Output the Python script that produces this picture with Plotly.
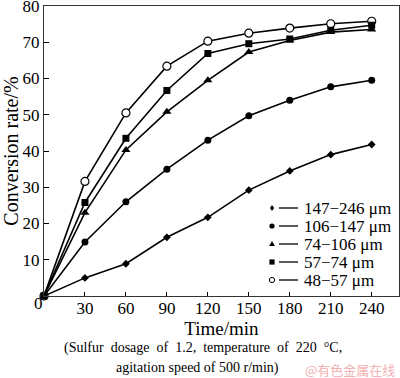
import plotly.graph_objects as go

time_min = [0, 30, 60, 90, 120, 150, 180, 210, 240]
series_names = ["147−246 μm", "106−147 μm", "74−106 μm", "57−74 μm", "48−57 μm"]
rate_147_246 = [0, 5.0, 8.9, 16.2, 21.7, 29.2, 34.5, 39.0, 41.8]
rate_106_147 = [0, 14.9, 26.0, 35.0, 43.0, 49.7, 54.0, 57.7, 59.5]
rate_74_106 = [0, 23.0, 40.3, 50.8, 59.5, 67.3, 70.5, 72.8, 73.5]
rate_57_74 = [0, 25.8, 43.5, 56.7, 66.9, 69.6, 70.9, 73.3, 74.7]
rate_48_57 = [0, 31.6, 50.5, 63.4, 70.3, 72.5, 73.9, 75.1, 75.8]
x_ticks = [30, 60, 90, 120, 150, 180, 210, 240]
y_ticks = [0, 10, 20, 30, 40, 50, 60, 70, 80]
y_tick_text = ["", "10", "20", "30", "40", "50", "60", "70", "80"]

FONT = "Liberation Serif, Times New Roman, serif"
W, H = 400, 378
ML, MR, MT, MB = 44, 1, 6, 82
PW, PH = W - ML - MR, H - MT - MB

styles = [
    dict(symbol="diamond", size=6, color="black", line=dict(width=0)),
    dict(symbol="circle", size=7, color="black", line=dict(width=0)),
    dict(symbol="triangle-up", size=8, color="black", line=dict(width=0)),
    dict(symbol="circle", size=8, color="white", line=dict(width=1.2, color="black")),
    dict(symbol="square", size=7, color="black", line=dict(width=0)),
]
data = [rate_147_246, rate_106_147, rate_74_106, rate_48_57, rate_57_74]
names = [series_names[0], series_names[1], series_names[2], series_names[4], series_names[3]]

fig = go.Figure()
for vals, st, nm in zip(data, styles, names):
    fig.add_trace(go.Scatter(x=time_min, y=vals, mode="lines+markers", name=nm,
                             line=dict(color="black", width=1.6), marker=st,
                             showlegend=False, cliponaxis=False))

def px2paper(px, py):
    return (px - ML) / PW, (H - MB - py) / PH

shapes = []
annotations = []
# manual legend
leg_syms = ["diamond", "circle", "triangle", "square", "ocircle"]
for i, (nm, sym) in enumerate(zip(series_names, leg_syms)):
    py = 208 + 18 * i
    mx, my = px2paper(272, py)
    s = 2.6
    common = dict(xref="paper", yref="paper", xsizemode="pixel", ysizemode="pixel",
                  xanchor=mx, yanchor=my)
    if sym == "diamond":
        shapes.append(dict(type="path", path=f"M0,{s+0.5} L{s-0.5},0 L0,{-s-0.5} L{-s+0.5},0 Z",
                           fillcolor="black", line=dict(width=0), **common))
    elif sym == "circle":
        shapes.append(dict(type="circle", x0=-s, x1=s, y0=-s, y1=s,
                           fillcolor="black", line=dict(width=0), **common))
    elif sym == "triangle":
        shapes.append(dict(type="path", path=f"M0,{s+0.5} L{s+0.3},{-s+0.5} L{-s-0.3},{-s+0.5} Z",
                           fillcolor="black", line=dict(width=0), **common))
    elif sym == "square":
        shapes.append(dict(type="rect", x0=-s, x1=s, y0=-s, y1=s,
                           fillcolor="black", line=dict(width=0), **common))
    else:
        shapes.append(dict(type="circle", x0=-s, x1=s, y0=-s, y1=s,
                           fillcolor="white", line=dict(width=1, color="black"), **common))
    x0, y0 = px2paper(279, py)
    x1, _ = px2paper(298, py)
    shapes.append(dict(type="line", xref="paper", yref="paper", x0=x0, x1=x1, y0=y0, y1=y0,
                       line=dict(color="black", width=1.3)))
    tx, ty = px2paper(302, py)
    annotations.append(dict(x=tx, y=ty, xref="paper", yref="paper", text=nm, showarrow=False,
                            xanchor="left", yanchor="middle",
                            font=dict(family=FONT, size=17, color="black")))

# shared origin label
ox, oy = px2paper(38, 303)
annotations.append(dict(x=ox, y=oy, xref="paper", yref="paper", text="0", showarrow=False,
                        xanchor="center", yanchor="middle",
                        font=dict(family=FONT, size=17, color="black")))

# caption
cx, cy1 = px2paper(203, 348)
annotations.append(dict(x=cx, y=cy1, xref="paper", yref="paper",
                        text="(Sulfur\u00a0 dosage\u00a0 of\u00a0 1.2,\u00a0 temperature\u00a0 of\u00a0 220\u00a0 °C,",
                        showarrow=False, xanchor="center", yanchor="middle",
                        font=dict(family=FONT, size=14, color="black")))
cx2, cy2 = px2paper(197, 368)
annotations.append(dict(x=cx2, y=cy2, xref="paper", yref="paper",
                        text="agitation speed of 500 r/min)",
                        showarrow=False, xanchor="center", yanchor="middle",
                        font=dict(family=FONT, size=14, color="black")))
wx, wy = px2paper(350, 369)
annotations.append(dict(x=wx, y=wy, xref="paper", yref="paper", text="@有色金属在线",
                        showarrow=False, xanchor="center", yanchor="middle",
                        font=dict(family="Noto Sans CJK SC", size=13, color="#f2b2b2")))

fig.update_layout(
    width=W, height=H,
    margin=dict(l=ML, r=MR, t=MT, b=MB, autoexpand=False),
    paper_bgcolor="white", plot_bgcolor="white",
    font=dict(family=FONT, size=17, color="black"),
    shapes=shapes, annotations=annotations,
    xaxis=dict(range=[0, 260], tickvals=x_ticks, ticks="inside", ticklen=4,
               tickcolor="black", showgrid=False, zeroline=False, showline=True,
               linecolor="#333", linewidth=1, mirror=True, automargin=False,
               ticklabelstandoff=-3,
               title=dict(text="Time/min", font=dict(size=19), standoff=4),
               tickfont=dict(size=17)),
    yaxis=dict(range=[0, 80], tickvals=y_ticks, ticktext=y_tick_text, ticks="inside", ticklen=5,
               tickcolor="black", showgrid=False, zeroline=False, showline=True,
               linecolor="#333", linewidth=1, mirror=True, automargin=False,
               ticklabeloverflow="allow",
               title=dict(text="Conversion rate/%", font=dict(size=20), standoff=3),
               tickfont=dict(size=17)),
)

fig.write_html("out.html", config={"displayModeBar": False},
               post_script="document.body.style.margin='0px';document.body.style.padding='0px';")
